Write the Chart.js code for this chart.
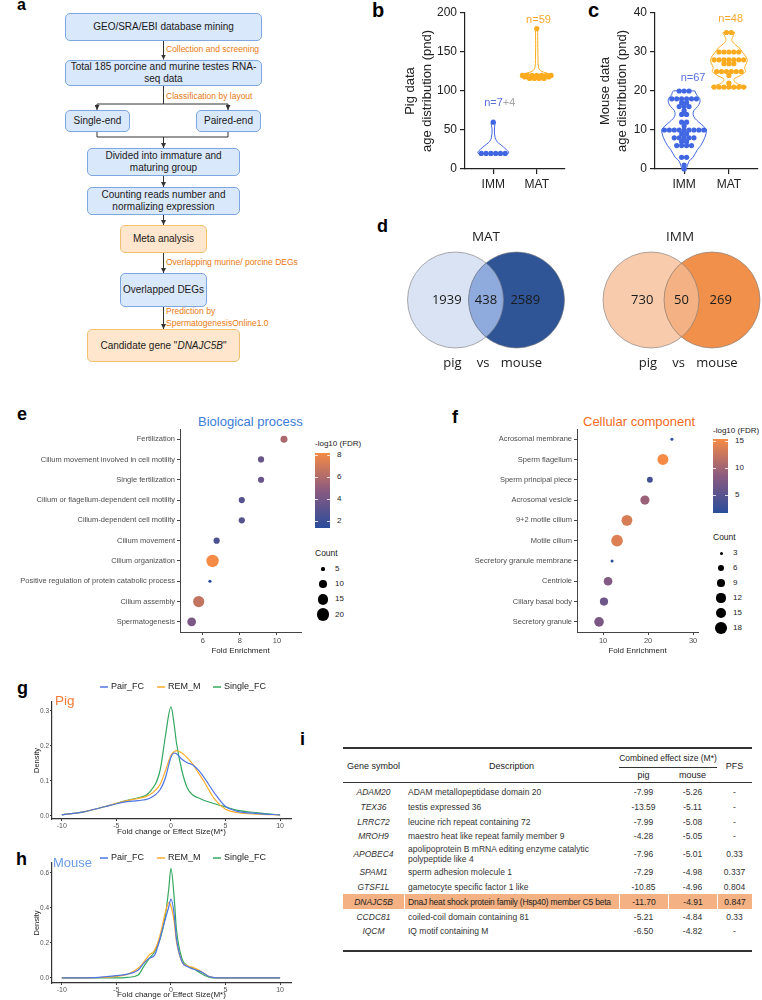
<!DOCTYPE html>
<html>
<head>
<meta charset="utf-8">
<title>DNAJC5B figure</title>
<script src="https://cdn.jsdelivr.net/npm/chart.js@4.4.1/dist/chart.umd.min.js"></script>
<style>
html, body { margin: 0; padding: 0; background: #fff; }
body { position: relative; width: 762px; height: 1000px; overflow: hidden;
       font-family: 'Liberation Sans', Arial, Helvetica, sans-serif; color: #1a1a1a; }
canvas, .t, .box, .cell, svg, .rule, .lab { position: absolute; }
.lab { font-weight: bold; line-height: 1; color: #000; }
.box { box-sizing: border-box; border: 1px solid #7ea6e0; background: #dae8fc; border-radius: 5px;
       display: flex; align-items: center; justify-content: center; text-align: center;
       font-size: 10px; line-height: 12px; color: #1a1a1a; }
.box.or { border-color: #f3c06e; background: #ffe6cc; }
.t { white-space: nowrap; }
.ol { color: #e8790f; font-size: 8.5px; line-height: 12px; }
.cell { display: flex; align-items: center; justify-content: center; font-size: 8.5px;
        line-height: 10px; color: #333; white-space: pre; box-sizing: border-box; }
.cell.desc { justify-content: flex-start; padding-left: 4px; }
.cell.gene { font-style: italic; }
.rule { background: #333; }
</style>
</head>
<body>

<!-- panel letters -->
<div class="lab" style="left:17px;top:-3.5px;font-size:16px">a</div>
<div class="lab" style="left:372px;top:-0.2px;font-size:20px">b</div>
<div class="lab" style="left:588px;top:-0.2px;font-size:20px">c</div>
<div class="lab" style="left:377px;top:216.8px;font-size:18px">d</div>
<div class="lab" style="left:17px;top:404.8px;font-size:18px">e</div>
<div class="lab" style="left:452px;top:407.8px;font-size:18px">f</div>
<div class="lab" style="left:17px;top:678.8px;font-size:18px">g</div>
<div class="lab" style="left:16px;top:849.8px;font-size:18px">h</div>
<div class="lab" style="left:300px;top:729.8px;font-size:18px">i</div>

<!-- a: workflow -->
<svg style="left:0;top:0" width="300" height="370">
  <defs>
    <marker id="ah" markerWidth="5" markerHeight="5" refX="5" refY="2.5" orient="auto" markerUnits="userSpaceOnUse">
      <path d="M0,0 L5,2.5 L0,5 z" fill="#333"/>
    </marker>
  </defs>
  <g stroke="#333" stroke-width="1" fill="none">
    <path d="M163.5,41 V59.5" marker-end="url(#ah)"/>
    <path d="M163.5,86 V104"/>
    <path d="M163.5,104 H97 V110" marker-end="url(#ah)"/>
    <path d="M163.5,104 H228 V110" marker-end="url(#ah)"/>
    <path d="M97,132 V137 H228 V132"/>
    <path d="M163.5,137 V148" marker-end="url(#ah)"/>
    <path d="M163.5,176 V187" marker-end="url(#ah)"/>
    <path d="M163.5,215 V225" marker-end="url(#ah)"/>
    <path d="M163.5,253 V273" marker-end="url(#ah)"/>
    <path d="M163.5,307 V329" marker-end="url(#ah)"/>
  </g>
</svg>
<div class="box" style="left:65px;top:13px;width:197px;height:28px">GEO/SRA/EBI database mining</div>
<div class="t ol" style="left:166px;top:43px">Collection and screening</div>
<div class="box" style="left:65px;top:60px;width:197px;height:26px">Total 185 porcine and murine testes RNA-<br>seq data</div>
<div class="t ol" style="left:166px;top:90px">Classification by layout</div>
<div class="box" style="left:65px;top:110px;width:65px;height:22px">Single-end</div>
<div class="box" style="left:196px;top:110px;width:65px;height:22px">Paired-end</div>
<div class="box" style="left:87px;top:148px;width:153px;height:28px">Divided into immature and<br>maturing group</div>
<div class="box" style="left:87px;top:187px;width:153px;height:28px">Counting reads number and<br>normalizing expression</div>
<div class="box or" style="left:120px;top:225px;width:87px;height:28px">Meta analysis</div>
<div class="t ol" style="left:166px;top:256px">Overlapping murine/ porcine DEGs</div>
<div class="box" style="left:120px;top:273px;width:87px;height:34px">Overlapped DEGs</div>
<div class="t ol" style="left:166px;top:305px">Prediction by<br>SpermatogenesisOnline1.0</div>
<div class="box or" style="left:87px;top:329px;width:153px;height:33px">Candidate gene "<i>DNAJC5B</i>"</div>

<!-- b, c -->
<canvas id="cb" width="175" height="193" style="left:395px;top:0"></canvas>
<canvas id="cc" width="172" height="193" style="left:590px;top:0"></canvas>

<!-- d -->
<canvas id="vmat" width="172" height="150" style="left:400px;top:225px"></canvas>
<canvas id="vimm" width="164" height="150" style="left:598px;top:225px"></canvas>

<!-- e, f -->
<div class="t" style="left:198px;top:414px;font-size:13px;line-height:16px;color:#3b7dd8">Biological process</div>
<div class="t" style="left:583px;top:414px;font-size:13px;line-height:16px;color:#f26a1b">Cellular component</div>
<canvas id="ce" width="310" height="260" style="left:0;top:405px"></canvas>
<canvas id="cf" width="318" height="260" style="left:390px;top:405px"></canvas>

<!-- g, h -->
<canvas id="cg" width="300" height="162" style="left:0;top:678px"></canvas>
<canvas id="ch" width="300" height="150" style="left:0;top:850px"></canvas>
<div class="t" style="left:55px;top:693px;font-size:13.5px;line-height:16px;color:#f47a35">Pig</div>
<div class="t" style="left:53px;top:855px;font-size:13px;line-height:16px;color:#6a9be8">Mouse</div>

<script>
// ---------- b / c : age distributions ----------
const groups    = ['IMM', 'MAT'];
const groupPos  = [1, 2];
const pigTicks   = [0, 50, 100, 150, 200];
const mouseTicks = [0, 10, 20, 30, 40];

// dots: age (pnd) and how many samples sit on that age
const pigImmAges     = [20, 60];
const pigImmCounts   = [6, 1];
const pigMatAges     = [120, 118, 116, 180];
const pigMatCounts   = [7, 6, 4, 1];
const mouseImmAges   = [20, 18, 17, 16, 15, 14, 12, 11, 10, 9, 8, 7, 6, 3, 1, 0];
const mouseImmCounts = [3, 6, 2, 3, 1, 2, 2, 1, 9, 2, 5, 2, 4, 2, 1, 1];
const mouseMatAges   = [35, 30, 28, 27, 25, 24, 22, 21];
const mouseMatCounts = [2, 5, 7, 3, 6, 1, 1, 7];

// violin outlines: age and half width (category units), top to bottom
const pigImmViolinAge   = [60, 50, 40, 35, 32, 28, 25, 22, 20];
const pigImmViolinHalf  = [0.043, 0.026, 0.043, 0.087, 0.15, 0.24, 0.30, 0.35, 0.35];
const pigMatViolinAge   = [180, 160, 140, 130, 126, 123, 121, 118, 116, 115];
const pigMatViolinHalf  = [0.022, 0.024, 0.03, 0.04, 0.087, 0.22, 0.33, 0.33, 0.24, 0.15];
const mouseImmViolinAge  = [20, 19, 18, 17, 16, 15, 14, 13, 12, 11, 10, 8, 6, 5, 3, 2, 0];
const mouseImmViolinHalf = [0.24, 0.28, 0.35, 0.35, 0.30, 0.22, 0.20, 0.24, 0.33, 0.43, 0.50, 0.46, 0.37, 0.30, 0.20, 0.11, 0.04];
const mouseMatViolinAge  = [35, 34, 33, 32, 31, 30, 29, 28, 27, 26, 25, 24, 23, 22, 21];
const mouseMatViolinHalf = [0.13, 0.09, 0.065, 0.13, 0.24, 0.30, 0.37, 0.41, 0.39, 0.35, 0.37, 0.26, 0.11, 0.17, 0.39];

// ---------- d : overlaps ----------
const vennParts = ['pig', 'vs', 'mouse'];
const matOverlap = [1939, 438, 2589];
const immOverlap = [730, 50, 269];

// ---------- e : GO biological process ----------
const bpTerms = ['Fertilization', 'Cilium movement involved in cell motility', 'Single fertilization',
  'Cilium or flagellum-dependent cell motility', 'Cilium-dependent cell motility', 'Cilium movement',
  'Cilium organization', 'Positive regulation of protein catabolic process', 'Cilium assembly', 'Spermatogenesis'];
const bpFold  = [10.38, 9.14, 9.14, 8.1, 8.1, 6.74, 6.52, 6.38, 5.77, 5.39];
const bpFdr   = [5.8, 3.6, 3.6, 3.0, 3.0, 2.6, 8.2, 1.4, 6.6, 4.3];
const bpCount = [9, 8, 8, 8, 8, 8, 20, 5, 17, 12];
const bpXTicks = [6, 8, 10];
const bpFdrTicks = [2, 4, 6, 8];
const bpCountTicks = [5, 10, 15, 20];

// ---------- f : GO cellular component ----------
const ccTerms = ['Acrosomal membrane', 'Sperm flagellum', 'Sperm principal piece', 'Acrosomal vesicle',
  '9+2 motile cilium', 'Motile cilium', 'Secretory granule membrane', 'Centriole', 'Ciliary basal body', 'Secretory granule'];
const ccFold  = [25.3, 23.3, 20.4, 19.3, 15.3, 13.1, 12.0, 11.1, 10.2, 9.1];
const ccFdr   = [2.0, 15.4, 3.5, 9.5, 13.5, 13.8, 1.7, 8.0, 6.5, 7.5];
const ccCount = [3, 16, 6, 12, 16, 18, 3, 11, 10, 13];
const ccXTicks = [10, 20, 30];
const ccFdrTicks = [5, 10, 15];
const ccCountTicks = [3, 6, 9, 12, 15, 18];

// ---------- g / h : densities ----------
const densXTicks = [-10, -5, 0, 5, 10];
const pigDensX   = [-10, -8, -6, -5, -4, -3, -2, -1, -0.5, 0, 0.3, 0.5, 1, 1.5, 2, 2.5, 3, 4, 5, 6, 8, 10];
const pigPairFC  = [0.003, 0.012, 0.027, 0.035, 0.041, 0.044, 0.050, 0.075, 0.11, 0.168, 0.18, 0.178, 0.162, 0.152, 0.146, 0.132, 0.112, 0.065, 0.027, 0.014, 0.007, 0.003];
const pigRemM    = [0.003, 0.012, 0.027, 0.036, 0.044, 0.050, 0.060, 0.09, 0.13, 0.173, 0.184, 0.187, 0.18, 0.166, 0.148, 0.124, 0.10, 0.048, 0.019, 0.010, 0.005, 0.003];
const pigSingle  = [0.003, 0.012, 0.027, 0.036, 0.045, 0.052, 0.067, 0.13, 0.23, 0.312, 0.26, 0.21, 0.13, 0.08, 0.06, 0.052, 0.045, 0.035, 0.026, 0.017, 0.009, 0.003];
const pigYTicks  = [0, 0.1, 0.2, 0.3];
const mouseDensX  = [-10, -7, -5, -4, -3, -2.5, -2, -1.5, -1, -0.5, -0.2, 0, 0.3, 0.5, 1, 1.5, 2, 2.5, 3, 3.5, 4, 5, 10];
const mousePairFC = [0, 0.002, 0.013, 0.022, 0.045, 0.083, 0.112, 0.13, 0.226, 0.34, 0.407, 0.45, 0.36, 0.226, 0.094, 0.065, 0.051, 0.042, 0.027, 0.008, 0.002, 0, 0];
const mouseRemM   = [0, 0.001, 0.009, 0.02, 0.055, 0.09, 0.13, 0.158, 0.244, 0.378, 0.43, 0.41, 0.32, 0.21, 0.094, 0.07, 0.06, 0.046, 0.027, 0.008, 0.002, 0, 0];
const mouseSingle = [0, 0, 0, 0.003, 0.017, 0.065, 0.11, 0.15, 0.22, 0.36, 0.51, 0.627, 0.455, 0.28, 0.112, 0.07, 0.055, 0.036, 0.017, 0.005, 0, 0, 0];
const mouseYTicks = [0, 0.2, 0.4, 0.6];

// ---------- i : table ----------
const genes  = ['ADAM20', 'TEX36', 'LRRC72', 'MROH9', 'APOBEC4', 'SPAM1', 'GTSF1L', 'DNAJC5B', 'CCDC81', 'IQCM'];
const descs  = ['ADAM metallopeptidase domain 20', 'testis expressed 36', 'leucine rich repeat containing 72',
  'maestro heat like repeat family member 9', 'apolipoprotein B mRNA editing enzyme catalytic\npolypeptide like 4',
  'sperm adhesion molecule 1', 'gametocyte specific factor 1 like', 'DnaJ heat shock protein family (Hsp40) member C5 beta',
  'coiled-coil domain containing 81', 'IQ motif containing M'];
const pigM   = ['-7.99', '-13.59', '-7.99', '-4.28', '-7.96', '-7.29', '-10.85', '-11.70', '-5.21', '-6.50'];
const mouseM = ['-5.26', '-5.11', '-5.08', '-5.05', '-5.01', '-4.98', '-4.96', '-4.91', '-4.84', '-4.82'];
const pfs    = ['-', '-', '-', '-', '0.33', '0.337', '0.804', '0.847', '0.33', '-'];
const highlightGene = 'DNAJC5B';

// =====================================================================
Chart.defaults.font.family = "'Liberation Sans', Arial, Helvetica, sans-serif";
Chart.defaults.color = '#222';
Chart.defaults.animation = false;
Chart.defaults.responsive = false;
Chart.defaults.plugins.legend.display = false;
Chart.defaults.plugins.tooltip.enabled = false;

const IMM_BLUE = '#4166e2';
const MAT_ORANGE = '#fbab1d';
const fixTicks = values => s => { s.ticks = values.map(v => ({ value: v })); };

function swarm(center, ages, counts, step) {
    const pts = [];
    ages.forEach((age, k) => {
        const n = counts[k];
        for (let i = 0; i < n; i++) pts.push({ x: center + (i - (n - 1) / 2) * step, y: age });
    });
    return pts;
}

function violinPath(center, ages, half) {
    const pts = ages.map((a, i) => ({ x: center + half[i], y: a }));
    for (let i = ages.length - 1; i >= 0; i--) pts.push({ x: center - half[i], y: ages[i] });
    pts.push(pts[0]);
    return pts;
}

const nLabels = {
    id: 'nLabels',
    afterDatasetsDraw(chart, args, opts) {
        const { ctx, scales: { x, y } } = chart;
        ctx.save();
        ctx.font = "11px 'Liberation Sans', Arial, sans-serif";
        ctx.textBaseline = 'middle';
        ctx.textAlign = 'left';
        opts.items.forEach(it => {
            const total = it.parts.reduce((w, p) => w + ctx.measureText(p[0]).width, 0);
            let px = x.getPixelForValue(it.x) - total / 2;
            const py = y.getPixelForValue(it.y);
            it.parts.forEach(([t, c]) => {
                ctx.fillStyle = c;
                ctx.fillText(t, px, py);
                px += ctx.measureText(t).width;
            });
        });
        ctx.restore();
    }
};

function violinChart(id, c) {
    const dots = (data, color) => ({ data, backgroundColor: color, borderWidth: 0, pointRadius: 2.6, clip: false, order: 1 });
    const outline = (data, color) => ({ data, showLine: true, borderColor: color, borderWidth: 1,
                                        pointRadius: 0, fill: false, tension: 0.3, clip: false, order: 2 });
    return new Chart(document.getElementById(id), {
        type: 'scatter',
        data: { datasets: [
            dots(swarm(1, c.immAges, c.immCounts, 0.11), IMM_BLUE),
            dots(swarm(2, c.matAges, c.matCounts, 0.11), MAT_ORANGE),
            outline(violinPath(1, c.immVA, c.immVH), IMM_BLUE),
            outline(violinPath(2, c.matVA, c.matVH), MAT_ORANGE),
        ] },
        options: {
            layout: { padding: { top: 13, right: c.padRight, left: 0, bottom: 0 } },
            scales: {
                x: {
                    type: 'linear', min: 0.35, max: 2.65,
                    afterBuildTicks: fixTicks(groupPos),
                    ticks: { callback: (v, i) => groups[i], font: { size: 12 }, color: '#222', padding: 3 },
                    grid: { drawOnChartArea: false, tickLength: 5, color: '#222', lineWidth: 1.2 },
                    border: { color: '#222', width: 1.2 },
                    afterFit: s => { s.height = 24; },
                },
                y: {
                    min: c.ticks[0], max: c.ticks[c.ticks.length - 1],
                    afterBuildTicks: fixTicks(c.ticks),
                    ticks: { font: { size: 12 }, color: '#222', padding: 3 },
                    grid: { drawOnChartArea: false, tickLength: 5, color: '#222', lineWidth: 1.2 },
                    border: { color: '#222', width: 1.2 },
                    title: { display: true, text: c.title, color: '#222',
                             font: { size: 13, lineHeight: '17px' }, padding: { top: 6.5, bottom: 0 } },
                    afterFit: s => { s.width = c.yWidth; },
                },
            },
            plugins: { nLabels: { items: c.labels } },
        },
        plugins: [nLabels],
    });
}

violinChart('cb', {
    immAges: pigImmAges, immCounts: pigImmCounts, matAges: pigMatAges, matCounts: pigMatCounts,
    immVA: pigImmViolinAge, immVH: pigImmViolinHalf, matVA: pigMatViolinAge, matVH: pigMatViolinHalf,
    ticks: pigTicks, title: ['Pig data', 'age distribution (pnd)'], yWidth: 70, padRight: 5,
    labels: [
        { x: 1.15, y: 84.6, parts: [['n=7', '#5b6ee1'], ['+4', '#a6a6a6']] },
        { x: 2.04, y: 191, parts: [['n=59', '#f8a830']] },
    ],
});
violinChart('cc', {
    immAges: mouseImmAges, immCounts: mouseImmCounts, matAges: mouseMatAges, matCounts: mouseMatCounts,
    immVA: mouseImmViolinAge, immVH: mouseImmViolinHalf, matVA: mouseMatViolinAge, matVH: mouseMatViolinHalf,
    ticks: mouseTicks, title: ['Mouse data', 'age distribution (pnd)'], yWidth: 65, padRight: 2,
    labels: [
        { x: 1.2, y: 23.3, parts: [['n=67', '#5a6fe0']] },
        { x: 2.04, y: 38.5, parts: [['n=48', '#f8a830']] },
    ],
});

// ---------- d ----------
const venn = {
    id: 'venn',
    afterDraw(chart, args, o) {
        const { ctx, scales: { x, y } } = chart;
        const cl = x.getPixelForValue(-o.gap / 2), cr = x.getPixelForValue(o.gap / 2);
        const cy = y.getPixelForValue(0);
        const r = x.getPixelForValue(o.radius) - x.getPixelForValue(0);
        const mid = (cl + cr) / 2;
        const circle = cx => { ctx.beginPath(); ctx.arc(cx, cy, r, 0, Math.PI * 2); };
        ctx.save();
        circle(cl); ctx.fillStyle = o.colors[0]; ctx.fill();
        circle(cr); ctx.fillStyle = o.colors[2]; ctx.fill();
        ctx.save(); circle(cl); ctx.clip(); circle(cr); ctx.fillStyle = o.colors[1]; ctx.fill(); ctx.restore();
        ctx.strokeStyle = 'rgba(120,120,120,0.75)';
        ctx.lineWidth = 0.8;
        circle(cl); ctx.stroke();
        circle(cr); ctx.stroke();

        ctx.fillStyle = '#1a1a1a';
        ctx.textAlign = 'center';
        ctx.textBaseline = 'middle';
        ctx.font = "13px 'Open Sans', 'Noto Sans', sans-serif";
        const numX = [((cl - r + cr - r) / 2 + cl) / 2, mid, ((cl + r + cr + r) / 2 + cr) / 2];
        o.counts.forEach((n, i) => ctx.fillText(String(n), numX[i], cy));
        // side labels sit under the two circles and the overlap
        const ly = y.getPixelForValue(-63);
        [cl - 3, mid - 3, cr + 5].forEach((px, i) => ctx.fillText(vennParts[i], px, ly));
        ctx.restore();
    }
};

function vennChart(id, title, counts, colors, xmin, xmax) {
    return new Chart(document.getElementById(id), {
        type: 'scatter',
        data: { datasets: [] },
        options: {
            layout: { padding: 0 },
            scales: {
                x: { display: false, min: xmin, max: xmax },
                y: { display: false, min: -75, max: 50.8 },
            },
            plugins: {
                title: { display: true, text: title, color: '#222',
                         font: { size: 13.5, weight: 'normal', family: "'Open Sans', 'Noto Sans', sans-serif" },
                         padding: { top: 4, bottom: 4 } },
                venn: { gap: 61, radius: 48, counts, colors },
            },
        },
        plugins: [venn],
    });
}
vennChart('vmat', 'MAT', matOverlap, ['#dae3f3', '#8faadc', '#2f5597'], -86, 86);
vennChart('vimm', 'IMM', immOverlap, ['#f8cbad', '#f4b183', '#f0904b'], -83.5, 80.5);

// ---------- e / f ----------
const LOW = [42, 77, 155], MID = [138, 90, 128], HIGH = [245, 139, 69];
function fdrColor(v, min, max) {
    const t = Math.max(0, Math.min(1, (v - min) / (max - min)));
    const [a, b, u] = t < 0.5 ? [LOW, MID, t * 2] : [MID, HIGH, (t - 0.5) * 2];
    const c = a.map((ch, i) => Math.round(ch + (b[i] - ch) * u));
    return `rgb(${c[0]},${c[1]},${c[2]})`;
}
function sizeR(n, cmin, cmax, rmin, rmax) {
    const t = (n - cmin) / (cmax - cmin);
    return Math.sqrt(rmin * rmin + (rmax * rmax - rmin * rmin) * t);
}

function dotPlot(id, c) {
    const fmin = Math.min(...c.fdr), fmax = Math.max(...c.fdr);
    const cmin = Math.min(...c.count), cmax = Math.max(...c.count);
    new Chart(document.getElementById(id), {
        type: 'scatter',
        data: { datasets: [{
            data: c.terms.map((t, i) => ({ x: c.fold[i], y: t })),
            pointRadius: ctx => sizeR(c.count[ctx.dataIndex], cmin, cmax, c.rmin, c.rmax),
            backgroundColor: ctx => fdrColor(c.fdr[ctx.dataIndex], fmin, fmax),
            borderWidth: 0, clip: false,
        }] },
        options: {
            layout: { padding: { top: 24, right: c.padRight, left: 0, bottom: 0 } },
            scales: {
                x: {
                    type: 'linear', min: c.xmin, max: c.xmax, afterBuildTicks: fixTicks(c.xticks),
                    ticks: { font: { size: 7.5 }, color: '#4d4d4d', padding: 1 },
                    grid: { drawOnChartArea: false, tickLength: 3, color: '#444' },
                    border: { color: '#444', width: 1 },
                    title: { display: true, text: 'Fold Enrichment', font: { size: 8 }, color: '#222',
                             padding: { top: 0, bottom: 9.2 } },
                    afterFit: s => { s.height = 33; },
                },
                y: {
                    type: 'category', labels: c.terms, offset: true,
                    ticks: { font: { size: 7.5 }, color: '#4d4d4d', padding: 2, autoSkip: false },
                    grid: { drawOnChartArea: false, tickLength: 3, color: '#444', offset: false },
                    border: { color: '#444', width: 1 },
                    afterFit: s => { s.width = c.yWidth; },
                },
            },
        },
    });

    // colour bar + size key
    const L = c.legend;
    const add = (html, css) => {
        const d = document.createElement('div');
        d.className = 't';
        d.style.cssText = css;
        d.innerHTML = html;
        document.body.appendChild(d);
        return d;
    };
    add('-log10 (FDR)', `left:${L.x}px;top:${L.titleY - 5}px;font-size:8px;line-height:10px;color:#222`);
    add('', `left:${L.x}px;top:${L.barTop}px;width:15px;height:${L.barH}px;` +
        `background:linear-gradient(to top, rgb(${LOW}), rgb(${MID}), rgb(${HIGH}))`);
    c.fdrTicks.forEach(v => {
        const yy = L.barTop + (fmax - v) / (fmax - fmin) * L.barH;
        add('', `left:${L.x}px;top:${yy - 0.5}px;width:3px;height:1px;background:rgba(255,255,255,0.8)`);
        add('', `left:${L.x + 12}px;top:${yy - 0.5}px;width:3px;height:1px;background:rgba(255,255,255,0.8)`);
        add(String(v), `left:${L.x + 22}px;top:${yy - 5}px;font-size:8px;line-height:10px;color:#222`);
    });
    add('Count', `left:${L.x}px;top:${L.countY - 5}px;font-size:8.5px;line-height:10px;color:#222`);
    c.countTicks.forEach((n, i) => {
        const r = sizeR(n, cmin, cmax, c.rmin, c.rmax);
        const yy = L.countY + 16 + i * L.step;
        add('', `left:${L.x + 8 - r}px;top:${yy - r}px;width:${2 * r}px;height:${2 * r}px;border-radius:50%;background:#000`);
        add(String(n), `left:${L.x + 20}px;top:${yy - 5}px;font-size:8px;line-height:10px;color:#222`);
    });
}

dotPlot('ce', {
    terms: bpTerms, fold: bpFold, fdr: bpFdr, count: bpCount, xticks: bpXTicks,
    fdrTicks: bpFdrTicks, countTicks: bpCountTicks,
    xmin: 4.76, xmax: 11.3, yWidth: 180, padRight: 9, rmin: 1.6, rmax: 6.2,
    legend: { x: 315, titleY: 444, barTop: 453, barH: 75, countY: 553, step: 15.2 },
});
dotPlot('cf', {
    terms: ccTerms, fold: ccFold, fdr: ccFdr, count: ccCount, xticks: ccXTicks,
    fdrTicks: ccFdrTicks, countTicks: ccCountTicks,
    xmin: 4.2, xmax: 31.1, yWidth: 187, padRight: 10, rmin: 1.5, rmax: 5.8,
    legend: { x: 713, titleY: 431, barTop: 439, barH: 74, countY: 537, step: 15 },
});

// ---------- g / h ----------
const lineLegend = {
    id: 'lineLegend',
    afterDraw(chart, args, o) {
        const ctx = chart.ctx;
        ctx.save();
        ctx.font = "9px 'Liberation Sans', Arial, sans-serif";
        ctx.textBaseline = 'middle';
        ctx.textAlign = 'left';
        chart.data.datasets.forEach((ds, i) => {
            const x0 = o.x[i];
            ctx.strokeStyle = ds.borderColor;
            ctx.lineWidth = 1.5;
            ctx.beginPath(); ctx.moveTo(x0, o.y); ctx.lineTo(x0 + 8, o.y); ctx.stroke();
            ctx.fillStyle = '#222';
            ctx.fillText(ds.label, x0 + 11, o.y);
        });
        ctx.restore();
    }
};

function densityChart(id, c) {
    const series = [
        ['Pair_FC', c.pair, '#4f74e3'],
        ['REM_M', c.rem, '#ffac2a'],
        ['Single_FC', c.single, '#33a860'],
    ];
    new Chart(document.getElementById(id), {
        type: 'scatter',
        data: { datasets: series.map(([label, ys, color]) => ({
            label, data: c.xs.map((x, i) => ({ x, y: ys[i] })), showLine: true,
            borderColor: color, borderWidth: 1.2, pointRadius: 0,
            cubicInterpolationMode: 'monotone', fill: false,
        })) },
        options: {
            layout: { padding: { top: c.padTop, right: 9, left: 0, bottom: 0 } },
            scales: {
                x: {
                    min: -10.9, max: 11, afterBuildTicks: fixTicks(densXTicks),
                    ticks: { font: { size: 7 }, color: '#555', padding: 1 },
                    grid: { drawOnChartArea: false, tickLength: 2, color: '#333' },
                    border: { color: '#333', width: 1.2 },
                    title: { display: true, text: 'Fold change or Effect Size(M*)', font: { size: 8 },
                             color: '#222', padding: { top: 0, bottom: c.titlePad } },
                    afterFit: s => { s.height = c.xHeight; },
                },
                y: {
                    min: c.ymin, max: c.ymax, afterBuildTicks: fixTicks(c.yticks),
                    ticks: { font: { size: 6.5 }, color: '#555', padding: 1, callback: v => v.toFixed(1) },
                    grid: { drawOnChartArea: false, tickLength: 2, color: '#333' },
                    border: { color: '#333', width: 1.2 },
                    title: { display: true, text: 'Density', font: { size: 7.5 }, color: '#222',
                             padding: { top: 32.5, bottom: 0 } },
                    afterFit: s => { s.width = 52; },
                },
            },
            plugins: { lineLegend: { x: [100, 157, 213], y: c.legendY } },
        },
        plugins: [lineLegend],
    });
}

densityChart('cg', {
    xs: pigDensX, pair: pigPairFC, rem: pigRemM, single: pigSingle, yticks: pigYTicks,
    ymin: -0.0086, ymax: 0.3257, padTop: 24, xHeight: 21, titlePad: 3.2, legendY: 9,
});
densityChart('ch', {
    xs: mouseDensX, pair: mousePairFC, rem: mouseRemM, single: mouseSingle, yticks: mouseYTicks,
    ymin: -0.029, ymax: 0.657, padTop: 13, xHeight: 17, titlePad: 0.2, legendY: 8,
});

// ---------- i ----------
(function buildTable() {
    const cols = [[343, 404], [404, 619], [619, 668], [668, 717], [717, 752]];
    const put = (cls, text, l, t, w, h, css) => {
        const d = document.createElement('div');
        d.className = cls;
        d.style.cssText = `left:${l}px;top:${t}px;width:${w}px;height:${h}px;${css || ''}`;
        if (text !== null) d.textContent = text;
        document.body.appendChild(d);
    };
    put('rule', null, 343, 747, 409, 2);
    put('rule', null, 343, 781.5, 409, 1);
    put('rule', null, 619, 767, 98, 1);
    put('rule', null, 343, 950, 409, 2);
    const hs = 'font-size:9px;color:#222';
    put('cell', 'Gene symbol', 343, 749, 61, 33, hs);
    put('cell', 'Description', 404, 749, 215, 33, hs);
    put('cell', 'Combined effect size (M*)', 614, 749, 108, 17, 'font-size:8.5px;color:#222');
    put('cell', 'pig', 619, 768, 49, 14, hs);
    put('cell', 'mouse', 668, 768, 49, 14, hs);
    put('cell', 'PFS', 717, 749, 35, 33, hs);

    let top = 784.6;
    genes.forEach((g, i) => {
        const h = descs[i].includes('\n') ? 21 : 14.8;
        const hl = g === highlightGene;
        [g, descs[i], pigM[i], mouseM[i], pfs[i]].forEach((txt, j) => {
            const [l, r] = cols[j];
            const cls = 'cell' + (j === 0 ? ' gene' : '') + (j === 1 ? ' desc' : '');
            const gap = hl && j > 0 ? 1 : 0;
            let css = hl ? 'background:#f4b183;color:#222;' : '';
            if (hl && j === 1) css += 'letter-spacing:-0.22px;padding-left:3px;';
            put(cls, txt, l + gap, top, r - l - gap, h, css);
        });
        top += h;
    });
})();
</script>
</body>
</html>
